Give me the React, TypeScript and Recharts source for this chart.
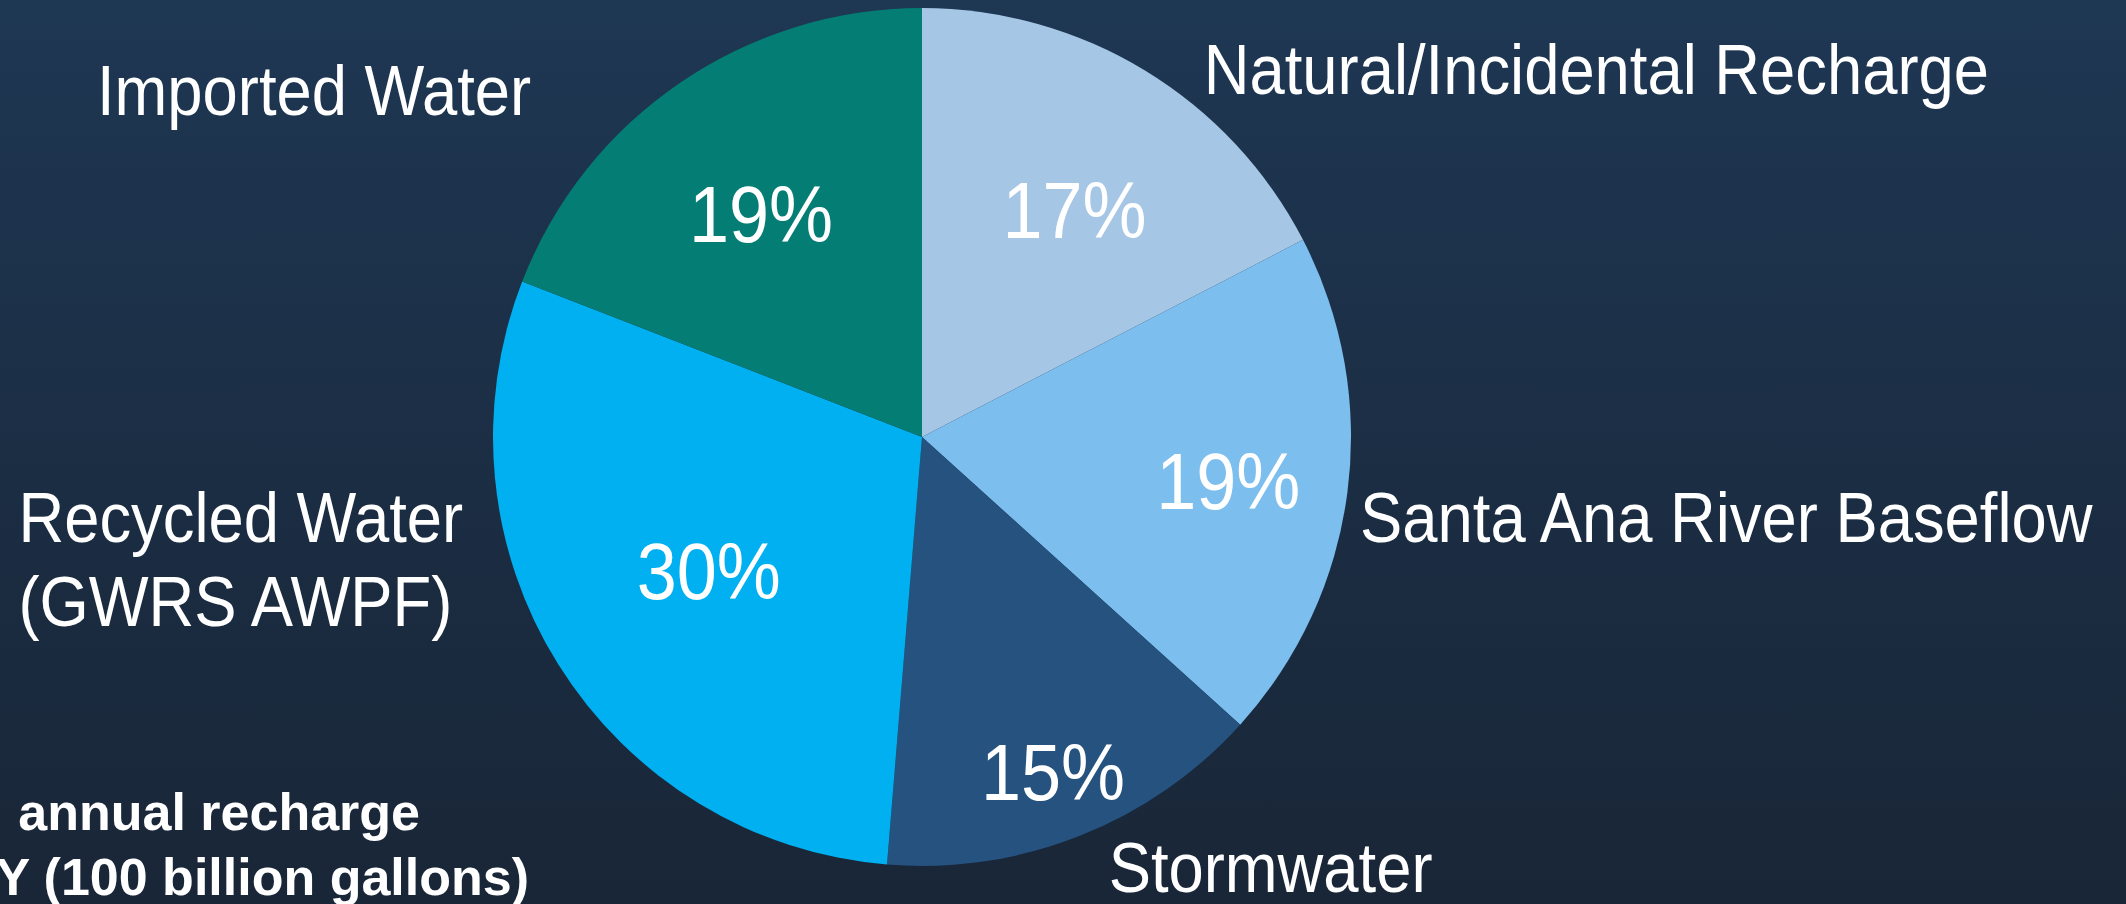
import { Cell, Pie, PieChart } from "recharts";

// recharge sources, clockwise from 12 o'clock
const sources = [
  "Natural/Incidental Recharge",
  "Santa Ana River Baseflow",
  "Stormwater",
  "Recycled Water\n(GWRS AWPF)",
  "Imported Water",
];
const shares = [17.4, 19.3, 14.6, 29.6, 19.1];
const sliceColors = ["#A6C6E5", "#7CBEEE", "#25527E", "#00B0F0", "#047D74"];

const noteLines = ["annual recharge", "Y (100 billion gallons)"];

const data = sources.map((name, i) => ({ name, value: shares[i] }));

// label layout (fraction of radius for %, nudge for the category name)
const pctRadius = [0.63, 0.72, 0.83, 0.57, 0.64];
const pctNudge = [12, 0, 0, -6, -6];
const nameLayout = [
  { dx: 38, dy: 58, anchor: "start" },
  { dx: -27, dy: 45, anchor: "start" },
  { dx: 14, dy: 19, anchor: "start" },
  { dx: -506, dy: -144, anchor: "start" },
  { dx: -126, dy: 65, anchor: "end" },
];

const RADIAN = Math.PI / 180;
const FONT = "'Liberation Sans', Arial, sans-serif";

const renderLabel = (props: any) => {
  const { cx, cy, midAngle, outerRadius, percent, index, name } = props;
  const cos = Math.cos(-midAngle * RADIAN);
  const sin = Math.sin(-midAngle * RADIAN);
  const pr = outerRadius * pctRadius[index];
  const px = cx + pr * cos + pctNudge[index];
  const py = cy + pr * sin + 4;
  const nr = outerRadius + 40;
  const lay = nameLayout[index];
  const nx = cx + nr * cos + lay.dx;
  const ny = cy + nr * sin + lay.dy;
  const lines = String(name).split("\n");
  return (
    <g>
      <text
        transform={`translate(${px},${py}) scale(0.9,1)`}
        textAnchor="middle"
        dominantBaseline="central"
        fill="#ffffff"
        fontSize={80}
        fontFamily={FONT}
      >
        {`${Math.round(percent * 100)}%`}
      </text>
      <text
        transform={`translate(${nx},${ny}) scale(0.905,1)`}
        textAnchor={lay.anchor as any}
        fill="#ffffff"
        fontSize={70}
        fontFamily={FONT}
      >
        {lines.map((l, i) => (
          <tspan key={i} x={0} dy={i === 0 ? 0 : 84}>
            {l}
          </tspan>
        ))}
      </text>
    </g>
  );
};

export default function App() {
  return (
    <div
      style={{
        position: "relative",
        width: 2126,
        height: 904,
        overflow: "hidden",
        background: "linear-gradient(180deg, #1E3753 0%, #1B2D43 55%, #192637 100%)",
      }}
    >
      <style>{`body{margin:0} .recharts-pie-sectors{filter:drop-shadow(4px 6px 6px rgba(0,0,0,0.55))}`}</style>
      <PieChart width={2126} height={904} margin={{ top: 0, right: 0, bottom: 0, left: 0 }}>
        <Pie
          data={data}
          dataKey="value"
          nameKey="name"
          cx={922}
          cy={437}
          outerRadius={429}
          startAngle={90}
          endAngle={-270}
          stroke="none"
          label={renderLabel}
          labelLine={false}
          isAnimationActive={false}
        >
          {data.map((d, i) => (
            <Cell key={d.name} fill={sliceColors[i]} />
          ))}
        </Pie>
      </PieChart>
      <svg
        width={2126}
        height={904}
        style={{ position: "absolute", left: 0, top: 0, pointerEvents: "none" }}
      >
        <text x={420} y={830} textAnchor="end" fill="#ffffff" fontSize={52} fontWeight="bold" fontFamily={FONT}>
          {noteLines[0]}
        </text>
        <text x={529} y={895} textAnchor="end" fill="#ffffff" fontSize={52} fontWeight="bold" fontFamily={FONT}>
          {noteLines[1]}
        </text>
      </svg>
    </div>
  );
}
